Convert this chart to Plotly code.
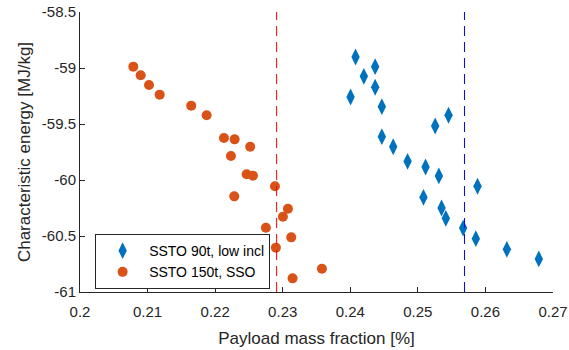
import plotly.graph_objects as go

# Series 1: SSTO 90t, low incl
low_incl_x = [0.24078, 0.24368, 0.24201, 0.24368, 0.24004, 0.24467, 0.25454, 0.25256,
              0.24467, 0.24635, 0.24848, 0.25114, 0.25311, 0.25883, 0.25083, 0.25351,
              0.25414, 0.25670, 0.25858, 0.26317, 0.26790]
low_incl_y = [-58.902, -58.988, -59.074, -59.172, -59.259, -59.345, -59.422, -59.518,
              -59.613, -59.703, -59.833, -59.884, -59.964, -60.056, -60.155, -60.250,
              -60.342, -60.429, -60.524, -60.619, -60.705]

# Series 2: SSTO 150t, SSO
sso_x = [0.20789, 0.20898, 0.21021, 0.21179, 0.21646, 0.21874, 0.22130, 0.22288,
         0.22519, 0.22234, 0.22466, 0.22559, 0.22885, 0.22283, 0.23077, 0.23003,
         0.22751, 0.23126, 0.22899, 0.23580, 0.23146]
sso_y = [-58.988, -59.065, -59.152, -59.238, -59.336, -59.422, -59.625, -59.637,
         -59.703, -59.786, -59.949, -59.961, -60.056, -60.146, -60.256, -60.328,
         -60.426, -60.512, -60.604, -60.792, -60.878]

# Reference (mean) lines
sso_ref_x = 0.2291
low_incl_ref_x = 0.2569

x_range = [0.2, 0.27]
y_range = [-61, -58.5]
x_ticks = [0.2, 0.21, 0.22, 0.23, 0.24, 0.25, 0.26, 0.27]
x_tick_labels = ["0.2", "0.21", "0.22", "0.23", "0.24", "0.25", "0.26", "0.27"]
y_ticks = [-61, -60.5, -60, -59.5, -59, -58.5]
y_tick_labels = ["-61", "-60.5", "-60", "-59.5", "-59", "-58.5"]

font_family = "Liberation Sans, Arial, Helvetica, sans-serif"
axis_color = "#262626"

fig = go.Figure()
fig.add_trace(go.Scatter(
    x=low_incl_x, y=low_incl_y, mode="markers", name="SSTO 90t, low incl",
    marker=dict(symbol="diamond-tall", size=12, color="#0072BD", line=dict(width=0))))
fig.add_trace(go.Scatter(
    x=sso_x, y=sso_y, mode="markers", name="SSTO 150t, SSO",
    marker=dict(symbol="circle", size=10, color="#D95319", line=dict(width=0))))
fig.add_trace(go.Scatter(
    x=[sso_ref_x, sso_ref_x], y=y_range, mode="lines", showlegend=False,
    line=dict(color="#ff0000", width=1, dash="10px,6px")))
fig.add_trace(go.Scatter(
    x=[low_incl_ref_x, low_incl_ref_x], y=y_range, mode="lines", showlegend=False,
    line=dict(color="#0000ff", width=1, dash="10px,6px")))

fig.update_layout(
    width=569, height=350,
    margin=dict(l=80, r=16, t=12, b=58),
    paper_bgcolor="white", plot_bgcolor="white",
    font=dict(family=font_family, size=15, color=axis_color),
    legend=dict(x=0.032, y=0.207, xanchor="left", yanchor="top",
                bordercolor="#262626", borderwidth=1, bgcolor="white",
                font=dict(size=14, color="black"), tracegroupgap=0,
                itemwidth=43),
    xaxis=dict(range=x_range, tickvals=x_ticks, ticktext=x_tick_labels,
               automargin=False,
               showgrid=False, zeroline=False, showline=True, linecolor=axis_color,
               linewidth=1, ticks="inside", ticklen=5, tickcolor=axis_color,
               ticklabelstandoff=6,
               tickfont=dict(size=15, color=axis_color),
               title=dict(text="Payload mass fraction [%]", font=dict(size=17, color=axis_color),
                          standoff=13)),
    yaxis=dict(range=y_range, tickvals=y_ticks, ticktext=y_tick_labels,
               automargin=False,
               showgrid=False, zeroline=False, showline=True, linecolor=axis_color,
               linewidth=1, ticks="inside", ticklen=5, tickcolor=axis_color,
               tickfont=dict(size=15, color=axis_color),
               title=dict(text="Characteristic energy [MJ/kg]", font=dict(size=17, color=axis_color),
                          standoff=6)),
)

# remove the default page margin so the figure fills the window exactly
fig.write_html("out.html", config={"displayModeBar": False},
               post_script="document.body.style.margin='0';document.body.style.overflow='hidden';")
